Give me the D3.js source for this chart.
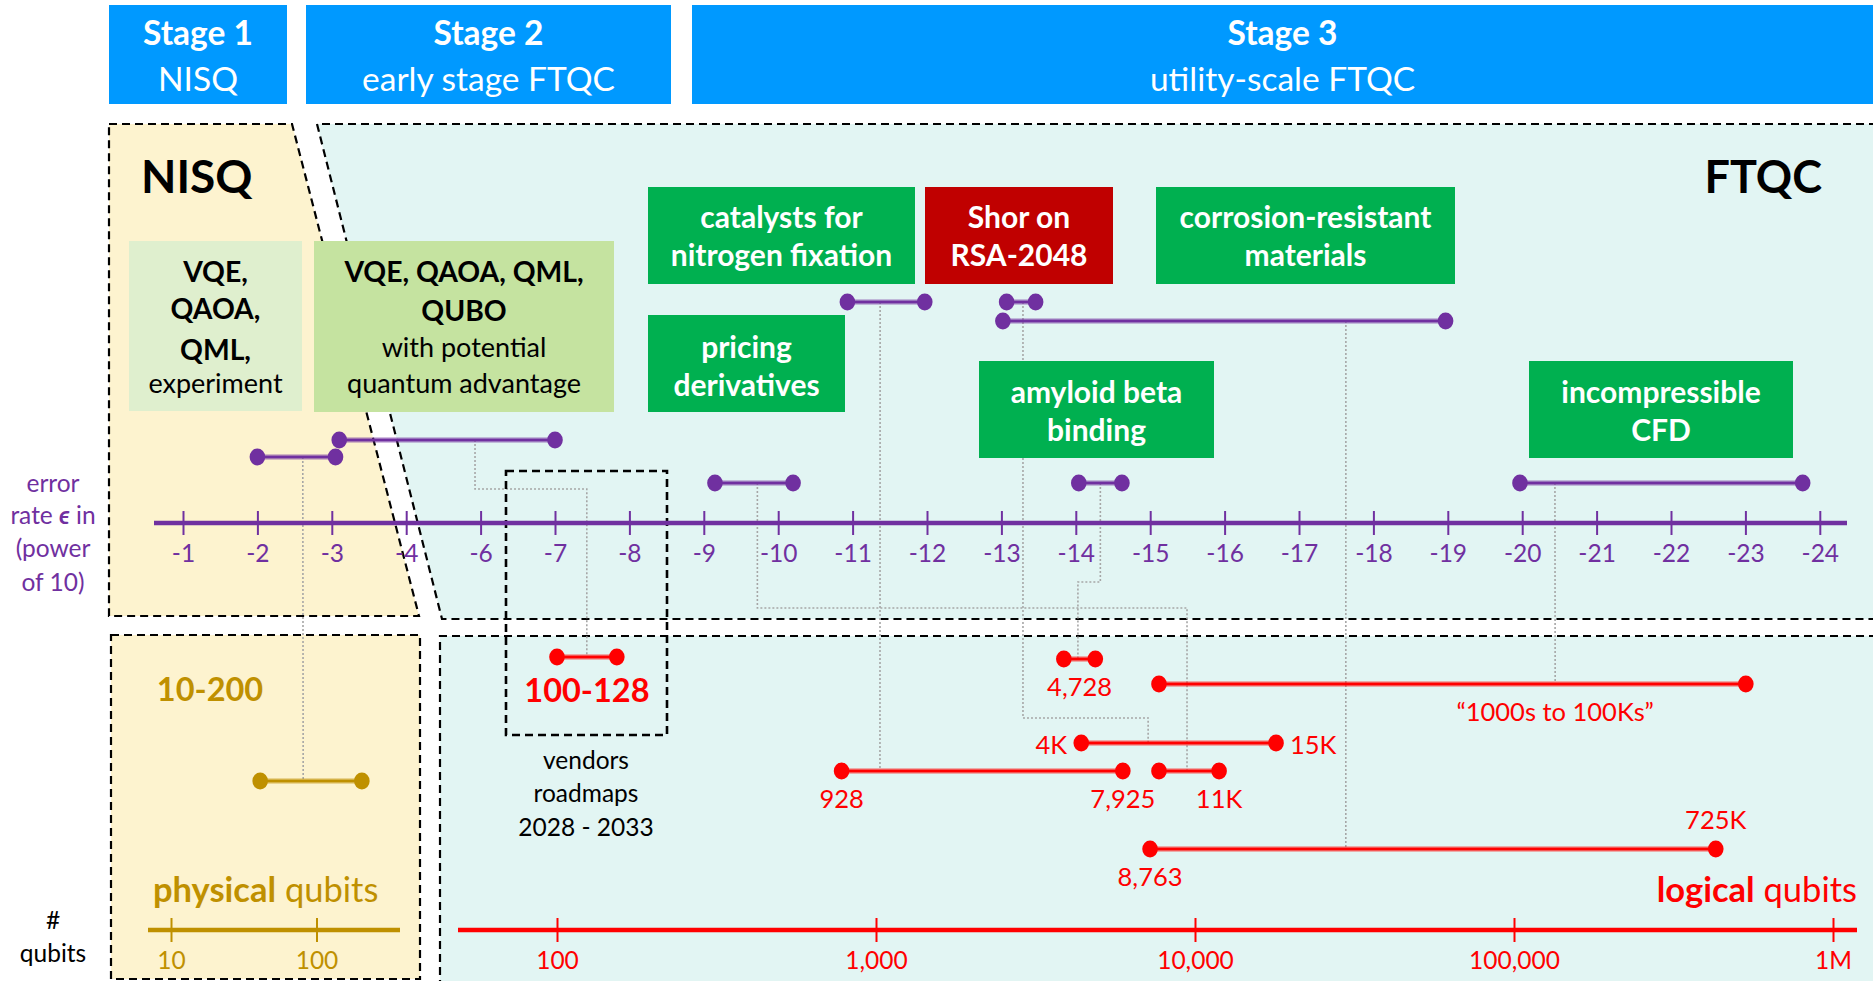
<!DOCTYPE html>
<html>
<head>
<meta charset="utf-8">
<script src="https://cdn.jsdelivr.net/npm/d3@7"></script>
<style>
body { margin: 0; background: #fff; }
svg { display: block; font-family: Lato, "Open Sans", sans-serif; }
</style>
</head>
<body>
<svg id="chart" width="1873" height="981"></svg>
<script>
// ---- data ----
var stageTitles = ["Stage 1", "Stage 2", "Stage 3"];
var stageSubs = ["NISQ", "early stage FTQC", "utility-scale FTQC"];

var errorTicks = [-1, -2, -3, -4, -6, -7, -8, -9, -10, -11, -12, -13, -14, -15, -16, -17, -18, -19, -20, -21, -22, -23, -24];
var logicalTicks = [100, 1000, 10000, 100000, 1000000];
var logicalTickText = ["100", "1,000", "10,000", "100,000", "1M"];
var physicalTicks = [10, 100];
var physicalTickText = ["10", "100"];

// one entry per application / regime
var appNames = ["nisq", "early", "nitrogen", "shor", "corrosion", "pricing", "amyloid", "cfd"];
var errLo = [-2, -3.1, -10.93, -13.07, -13.02, -9.15, -14.04, -19.97];
var errHi = [-3.05, -7, -11.97, -13.46, -18.97, -10.2, -14.62, -23.77];
var qubitLo = [41, 100, 780, 4400, 7230, 7710, 3880, 7710];
var qubitHi = [205, 154, 5940, 17950, 429000, 11900, 4870, 533000];
var linkErr = [-2.61, -5.85, -11.37, -13.29, -17.63, -9.72, -14.33, -20.44];
var linkQubit = [81, 124, 1029, 7130, 29700, 9440, 4295, 134600];

var boxTexts = [
    ["VQE,", "QAOA,", "QML,", "experiment"],
    ["VQE, QAOA, QML,", "QUBO", "with potential", "quantum advantage"],
    ["catalysts for", "nitrogen fixation"],
    ["Shor on", "RSA-2048"],
    ["corrosion-resistant", "materials"],
    ["pricing", "derivatives"],
    ["amyloid beta", "binding"],
    ["incompressible", "CFD"]
];
var boxBold = [[1, 1, 1, 0], [1, 1, 0, 0], [1, 1], [1, 1], [1, 1], [1, 1], [1, 1], [1, 1]];

var qubitLabels = [
    {app: "amyloid", text: "4,728", at: "mid", pos: "below"},
    {app: "cfd", text: "\u201C1000s to 100Ks\u201D", at: "link", pos: "below"},
    {app: "shor", text: "4K", at: "lo", pos: "left"},
    {app: "shor", text: "15K", at: "hi", pos: "right"},
    {app: "nitrogen", text: "928", at: "lo", pos: "below"},
    {app: "nitrogen", text: "7,925", at: "hi", pos: "below"},
    {app: "pricing", text: "11K", at: "hi", pos: "below"},
    {app: "corrosion", text: "725K", at: "hi", pos: "above"},
    {app: "corrosion", text: "8,763", at: "lo", pos: "below"}
];

// ---- layout ----
var PURPLE = "#7030A0", RED = "#FF0000", GOLD = "#BF9000";
var errRow = [457, 440, 302, 302, 321, 483, 483, 483];
var qubitRow = [781, 657, 771, 743, 849, 771, 659, 684];
var elbowY = [null, 489, null, 718, null, 608, 582, null];

var boxGeom = [
    {x: 129, y: 241, w: 173, h: 170, fill: "#DFEFCE", color: "#000", lineY: [272, 309, 350, 384]},
    {x: 314, y: 241, w: 300, h: 171, fill: "#C5E3A0", color: "#000", lineY: [272, 311, 348, 384]},
    {x: 648, y: 187, w: 267, h: 97, fill: "#00B050", color: "#fff", lineY: [217, 255]},
    {x: 925, y: 187, w: 188, h: 97, fill: "#C00000", color: "#fff", lineY: [217, 255]},
    {x: 1156, y: 187, w: 299, h: 97, fill: "#00B050", color: "#fff", lineY: [217, 255]},
    {x: 648, y: 315, w: 197, h: 97, fill: "#00B050", color: "#fff", lineY: [347, 385]},
    {x: 979, y: 361, w: 235, h: 97, fill: "#00B050", color: "#fff", lineY: [392, 430]},
    {x: 1529, y: 361, w: 264, h: 97, fill: "#00B050", color: "#fff", lineY: [392, 430]}
];

var svg = d3.select("#chart");

var xErr = d3.scaleLinear().domain([-1, -4, -6, -24]).range([183, 406.2, 480.6, 1819.8]);
var xLog = d3.scaleLog().domain([100, 1e6]).range([557, 1833]);
var xPhys = d3.scaleLog().domain([10, 100]).range([171, 316.5]);

// qubit scale per app (nisq uses physical qubits)
function qx(i, v) {
    return i === 0 ? xPhys(v) : xLog(v);
}

//阶段标题
var stageX = [[109, 287], [306, 671], [692, 1873]];
var stage = svg.append("g").attr("id", "stages");
stageX.forEach(function (s, i) {
    stage.append("rect").attr("x", s[0]).attr("y", 5).attr("width", s[1] - s[0]).attr("height", 99)
        .attr("fill", "#0099FF");
    stage.append("text").attr("x", (s[0] + s[1]) / 2).attr("y", 33).attr("dy", "0.35em")
        .attr("text-anchor", "middle").attr("fill", "#fff").attr("font-size", 33.5).attr("font-weight", "bold")
        .text(stageTitles[i]);
    stage.append("text").attr("x", (s[0] + s[1]) / 2).attr("y", 79).attr("dy", "0.35em")
        .attr("text-anchor", "middle").attr("fill", "#fff").attr("font-size", 33.5)
        .text(stageSubs[i]);
});

//背景区域
var panels = svg.append("g").attr("id", "panels");
var dash = {stroke: "#000", "stroke-width": 2.2, "stroke-dasharray": "8,5", fill: "none"};
function dashed(sel) {
    Object.keys(dash).forEach(function (k) { sel.attr(k, dash[k]); });
    return sel;
}
panels.append("path").attr("d", "M109,124 L292,124 L419,616 L109,616 Z").attr("fill", "#FDF3CF");
panels.append("path").attr("d", "M317,124 L1890,124 L1890,619 L442,619 Z").attr("fill", "#E2F5F3");
panels.append("rect").attr("x", 111).attr("y", 635).attr("width", 309).attr("height", 344).attr("fill", "#FDF3CF");
panels.append("rect").attr("x", 440).attr("y", 636).attr("width", 1450).attr("height", 360).attr("fill", "#E2F5F3");
dashed(panels.append("path").attr("d", "M109,124 L292,124 L419,616 L109,616 Z"));
dashed(panels.append("path").attr("d", "M1890,124 L317,124 L442,619 L1890,619"));
dashed(panels.append("rect").attr("x", 111).attr("y", 635).attr("width", 309).attr("height", 344));
dashed(panels.append("path").attr("d", "M1890,636 L440,636 L440,990"));

panels.append("text").attr("x", 141).attr("y", 177).attr("dy", "0.35em").attr("font-size", 46)
    .attr("font-weight", "bold").attr("fill", "#000").text("NISQ");
panels.append("text").attr("x", 1822).attr("y", 177).attr("dy", "0.35em").attr("font-size", 45)
    .attr("text-anchor", "end").attr("font-weight", "bold").attr("fill", "#000").text("FTQC");

//连接虚线
var links = svg.append("g").attr("id", "links");
appNames.forEach(function (name, i) {
    var x0 = xErr(linkErr[i]), x1 = qx(i, linkQubit[i]);
    var pts = [[x0, errRow[i]]];
    if (elbowY[i] !== null) {
        pts.push([x0, elbowY[i]]);
        pts.push([x1, elbowY[i]]);
    }
    pts.push([x1, qubitRow[i]]);
    links.append("path").attr("d", d3.line()(pts)).attr("fill", "none")
        .attr("stroke", "#A6A6A6").attr("stroke-width", 1.6).attr("stroke-dasharray", "2,2");
});

//应用方框
var boxes = svg.append("g").attr("id", "boxes");
boxGeom.forEach(function (b, i) {
    boxes.append("rect").attr("x", b.x).attr("y", b.y).attr("width", b.w).attr("height", b.h).attr("fill", b.fill);
    var white = b.color === "#fff";
    boxTexts[i].forEach(function (t, j) {
        var bold = boxBold[i][j];
        boxes.append("text").attr("x", b.x + b.w / 2).attr("y", b.lineY[j]).attr("dy", "0.35em")
            .attr("text-anchor", "middle").attr("fill", b.color)
            .attr("font-size", white ? 30 : (bold ? 28.3 : 27))
            .attr("font-weight", bold ? "bold" : "normal").text(t);
    });
});

//厂商路线图框
dashed(svg.append("rect").attr("x", 506).attr("y", 471).attr("width", 161).attr("height", 264)).attr("stroke-width", 2.6);
var vendor = ["vendors", "roadmaps", "2028 - 2033"];
vendor.forEach(function (t, j) {
    svg.append("text").attr("x", 586).attr("y", 760 + j * 33.5).attr("dy", "0.35em")
        .attr("text-anchor", "middle").attr("font-size", 24.5).attr("fill", "#000").text(t);
});

//坐标轴
function drawAxis(scale, ticks, labels, y, x0, x1, color) {
    var g = svg.append("g").attr("transform", "translate(0," + y + ")");
    g.append("line").attr("x1", x0).attr("x2", x1).attr("stroke", color).attr("stroke-width", 4.5);
    var axis = d3.axisBottom(scale).tickValues(ticks)
        .tickFormat(function (d, i) { return labels[i]; });
    var a = g.append("g").call(axis).attr("font-family", null).attr("font-size", null);
    a.select(".domain").remove();
    a.selectAll(".tick line").attr("y1", -12).attr("y2", 12).attr("stroke", color).attr("stroke-width", 2);
    a.selectAll(".tick text").attr("y", 30).attr("dy", "0.35em").attr("fill", color).attr("font-size", 24.5);
}
drawAxis(xErr, errorTicks, errorTicks.map(String), 523, 154, 1847, PURPLE);
drawAxis(xLog, logicalTicks, logicalTickText, 930, 458, 1857, RED);
drawAxis(xPhys, physicalTicks, physicalTickText, 930, 148, 400, GOLD);

//哑铃图
function dumbbell(xa, xb, y, color) {
    var g = svg.append("g");
    g.append("line").attr("x1", xa).attr("x2", xb).attr("y1", y).attr("y2", y)
        .attr("stroke", color).attr("stroke-opacity", 0.3).attr("stroke-width", 6);
    g.append("line").attr("x1", xa).attr("x2", xb).attr("y1", y).attr("y2", y)
        .attr("stroke", color).attr("stroke-width", 3);
    [xa, xb].forEach(function (x) {
        g.append("ellipse").attr("cx", x).attr("cy", y).attr("rx", 7.8).attr("ry", 8.5).attr("fill", color);
    });
}
appNames.forEach(function (name, i) {
    dumbbell(xErr(errLo[i]), xErr(errHi[i]), errRow[i], PURPLE);
    dumbbell(qx(i, qubitLo[i]), qx(i, qubitHi[i]), qubitRow[i], i === 0 ? GOLD : RED);
});

//数值标签
qubitLabels.forEach(function (l) {
    var i = appNames.indexOf(l.app);
    var lo = xLog(qubitLo[i]), hi = xLog(qubitHi[i]);
    var x = l.at === "lo" ? lo : l.at === "hi" ? hi : l.at === "mid" ? (lo + hi) / 2 : xLog(linkQubit[i]);
    var y = qubitRow[i], anchor = "middle";
    if (l.pos === "below") y += 28;
    if (l.pos === "above") y -= 29;
    if (l.pos === "left") { x -= 14; anchor = "end"; y += 2; }
    if (l.pos === "right") { x += 14; anchor = "start"; y += 2; }
    svg.append("text").attr("x", x).attr("y", y).attr("dy", "0.35em").attr("text-anchor", anchor)
        .attr("fill", RED).attr("font-size", 25.5).text(l.text);
});

var iEarly = appNames.indexOf("early");
svg.append("text")
    .attr("x", (xLog(qubitLo[iEarly]) + xLog(qubitHi[iEarly])) / 2).attr("y", qubitRow[iEarly] + 34).attr("dy", "0.35em")
    .attr("text-anchor", "middle").attr("fill", RED).attr("font-size", 32.5).attr("font-weight", "bold").text("100-128");
svg.append("text").attr("x", 210).attr("y", 690).attr("dy", "0.35em").attr("text-anchor", "middle")
    .attr("fill", GOLD).attr("font-size", 32.5).attr("font-weight", "bold").text("10-200");

var phys = svg.append("text").attr("x", 153).attr("y", 902).attr("font-size", 34.5).attr("fill", GOLD);
phys.append("tspan").attr("font-weight", "bold").text("physical");
phys.append("tspan").text(" qubits");
var logi = svg.append("text").attr("x", 1857).attr("y", 902).attr("font-size", 34.5).attr("fill", RED)
    .attr("text-anchor", "end");
logi.append("tspan").attr("font-weight", "bold").text("logical");
logi.append("tspan").text(" qubits");

//左侧轴标题
var errLabel = svg.append("g").attr("fill", PURPLE).attr("font-size", 24.5).attr("text-anchor", "middle");
errLabel.append("text").attr("x", 53).attr("y", 483).attr("dy", "0.35em").text("error");
var rate = errLabel.append("text").attr("x", 53).attr("y", 515).attr("dy", "0.35em");
rate.append("tspan").text("rate ");
rate.append("tspan").attr("font-weight", "bold").attr("font-style", "italic").text("\u03F5");
rate.append("tspan").text(" in");
errLabel.append("text").attr("x", 53).attr("y", 548).attr("dy", "0.35em").text("(power");
errLabel.append("text").attr("x", 53).attr("y", 582).attr("dy", "0.35em").text("of 10)");

var qLabel = svg.append("g").attr("fill", "#000").attr("font-size", 24.5).attr("text-anchor", "middle");
qLabel.append("text").attr("x", 53).attr("y", 920).attr("dy", "0.35em").text("#");
qLabel.append("text").attr("x", 53).attr("y", 953).attr("dy", "0.35em").text("qubits");
</script>
</body>
</html>
